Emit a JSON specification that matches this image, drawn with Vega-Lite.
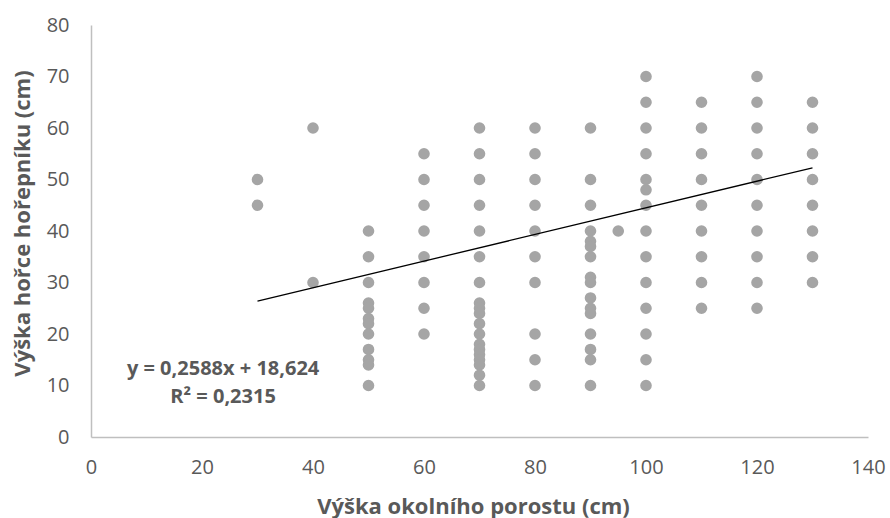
{
  "$schema": "https://vega.github.io/schema/vega-lite/v6.json",
  "width": 777,
  "height": 412,
  "autosize": "none",
  "padding": {"left": 91, "top": 25, "right": 22, "bottom": 81},
  "background": "white",
  "config": {
    "view": {"stroke": null},
    "font": "Open Sans",
    "axis": {
      "grid": false,
      "ticks": false,
      "labelFlush": false,
      "domainColor": "#bfbfbf",
      "domainWidth": 1.5,
      "labelColor": "#595959",
      "labelFont": "Open Sans",
      "labelFontSize": 20,
      "titleColor": "#595959",
      "titleFont": "Open Sans",
      "titleFontSize": 22,
      "titleFontWeight": "bold"
    }
  },
  "datasets": {
    "points": [
      {"x": 30, "y": 50}, {"x": 30, "y": 45},
      {"x": 40, "y": 60}, {"x": 40, "y": 30},
      {"x": 50, "y": 40}, {"x": 50, "y": 35}, {"x": 50, "y": 30}, {"x": 50, "y": 26}, {"x": 50, "y": 25}, {"x": 50, "y": 23}, {"x": 50, "y": 22}, {"x": 50, "y": 20}, {"x": 50, "y": 17}, {"x": 50, "y": 15}, {"x": 50, "y": 14}, {"x": 50, "y": 10},
      {"x": 60, "y": 55}, {"x": 60, "y": 50}, {"x": 60, "y": 45}, {"x": 60, "y": 40}, {"x": 60, "y": 35}, {"x": 60, "y": 30}, {"x": 60, "y": 25}, {"x": 60, "y": 20},
      {"x": 70, "y": 60}, {"x": 70, "y": 55}, {"x": 70, "y": 50}, {"x": 70, "y": 45}, {"x": 70, "y": 40}, {"x": 70, "y": 35}, {"x": 70, "y": 30}, {"x": 70, "y": 26}, {"x": 70, "y": 25}, {"x": 70, "y": 24}, {"x": 70, "y": 22}, {"x": 70, "y": 20}, {"x": 70, "y": 18}, {"x": 70, "y": 17}, {"x": 70, "y": 16}, {"x": 70, "y": 15}, {"x": 70, "y": 14}, {"x": 70, "y": 12}, {"x": 70, "y": 10},
      {"x": 80, "y": 60}, {"x": 80, "y": 55}, {"x": 80, "y": 50}, {"x": 80, "y": 45}, {"x": 80, "y": 40}, {"x": 80, "y": 35}, {"x": 80, "y": 30}, {"x": 80, "y": 20}, {"x": 80, "y": 15}, {"x": 80, "y": 10},
      {"x": 90, "y": 60}, {"x": 90, "y": 50}, {"x": 90, "y": 45}, {"x": 90, "y": 40}, {"x": 90, "y": 38}, {"x": 90, "y": 37}, {"x": 90, "y": 35}, {"x": 90, "y": 31}, {"x": 90, "y": 30}, {"x": 90, "y": 27}, {"x": 90, "y": 25}, {"x": 90, "y": 24}, {"x": 90, "y": 20}, {"x": 90, "y": 17}, {"x": 90, "y": 15}, {"x": 90, "y": 10},
      {"x": 95, "y": 40},
      {"x": 100, "y": 70}, {"x": 100, "y": 65}, {"x": 100, "y": 60}, {"x": 100, "y": 55}, {"x": 100, "y": 50}, {"x": 100, "y": 48}, {"x": 100, "y": 45}, {"x": 100, "y": 40}, {"x": 100, "y": 35}, {"x": 100, "y": 30}, {"x": 100, "y": 25}, {"x": 100, "y": 20}, {"x": 100, "y": 15}, {"x": 100, "y": 10},
      {"x": 110, "y": 65}, {"x": 110, "y": 60}, {"x": 110, "y": 55}, {"x": 110, "y": 50}, {"x": 110, "y": 45}, {"x": 110, "y": 40}, {"x": 110, "y": 35}, {"x": 110, "y": 30}, {"x": 110, "y": 25},
      {"x": 120, "y": 70}, {"x": 120, "y": 65}, {"x": 120, "y": 60}, {"x": 120, "y": 55}, {"x": 120, "y": 50}, {"x": 120, "y": 45}, {"x": 120, "y": 40}, {"x": 120, "y": 35}, {"x": 120, "y": 30}, {"x": 120, "y": 25},
      {"x": 130, "y": 65}, {"x": 130, "y": 60}, {"x": 130, "y": 55}, {"x": 130, "y": 50}, {"x": 130, "y": 45}, {"x": 130, "y": 40}, {"x": 130, "y": 35}, {"x": 130, "y": 30}
    ],
    "trend": [
      {"x": 30, "y": 26.388},
      {"x": 130, "y": 52.268}
    ]
  },
  "layer": [
    {
      "data": {"name": "points"},
      "mark": {"type": "circle", "size": 135, "color": "#a5a5a5", "opacity": 1},
      "encoding": {
        "x": {
          "field": "x", "type": "quantitative",
          "scale": {"domain": [0, 140], "nice": false},
          "axis": {"values": [0, 20, 40, 60, 80, 100, 120, 140], "labelPadding": 20, "title": "Výška okolního porostu (cm)", "titlePadding": 19, "titleX": 382}
        },
        "y": {
          "field": "y", "type": "quantitative",
          "scale": {"domain": [0, 80], "nice": false},
          "axis": {"values": [0, 10, 20, 30, 40, 50, 60, 70, 80], "labelPadding": 22, "title": "Výška hořce hořepníku (cm)", "titlePadding": 12, "titleY": 198}
        }
      }
    },
    {
      "data": {"name": "trend"},
      "mark": {"type": "line", "color": "#000000", "strokeWidth": 1.3},
      "encoding": {
        "x": {"field": "x", "type": "quantitative"},
        "y": {"field": "y", "type": "quantitative"}
      }
    },
    {
      "data": {"values": [{"label": "y = 0,2588x + 18,624"}]},
      "mark": {"type": "text", "font": "Open Sans", "fontSize": 20, "fontWeight": "bold", "color": "#595959", "align": "center", "baseline": "middle"},
      "encoding": {
        "x": {"datum": 23.8, "type": "quantitative"},
        "y": {"datum": 13.3, "type": "quantitative"},
        "text": {"field": "label"}
      }
    },
    {
      "data": {"values": [{"label": "R² = 0,2315"}]},
      "mark": {"type": "text", "font": "Open Sans", "fontSize": 20, "fontWeight": "bold", "color": "#595959", "align": "center", "baseline": "middle"},
      "encoding": {
        "x": {"datum": 23.8, "type": "quantitative"},
        "y": {"datum": 7.7, "type": "quantitative"},
        "text": {"field": "label"}
      }
    }
  ]
}
